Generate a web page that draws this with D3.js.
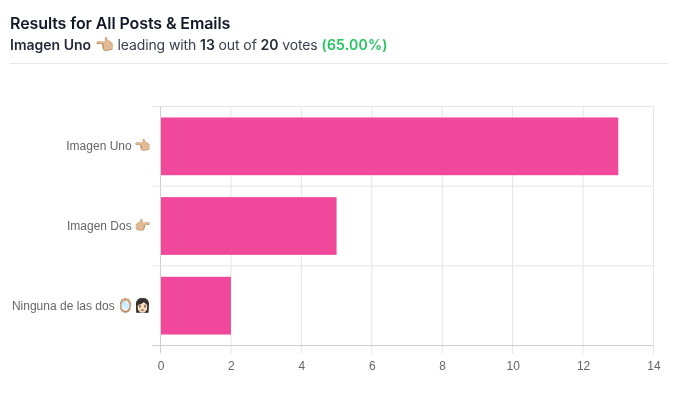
<!DOCTYPE html>
<html>
<head>
<meta charset="utf-8">
<script src="https://cdn.jsdelivr.net/npm/d3@7"></script>
<style>
  html, body { margin: 0; padding: 0; background: #fff; }
  svg { display: block; will-change: transform; }
</style>
</head>
<body>
<svg id="drawing_region"></svg>
<script>
const categories = ['Imagen Uno', 'Imagen Dos', 'Ninguna de las dos'];
const categoryEmoji = ['👈🏼', '👉🏼', '🪞👩🏻'];
const votes = [13, 5, 2];
const xTicks = [0, 2, 4, 6, 8, 10, 12, 14];

const width = 679, height = 393;
const margin = {top: 106.5, right: 25.5, bottom: 47.5, left: 160.5};
const innerWidth = width - margin.left - margin.right;
const innerHeight = height - margin.top - margin.bottom;

const svg = d3.select('#drawing_region')
    .attr('width', width)
    .attr('height', height);

// Header
const sans = 'Inter, sans-serif';
svg.append('text')
    .attr('x', 10).attr('y', 29)
    .attr('font-family', sans).attr('font-size', 16).attr('font-weight', 600)
    .attr('letter-spacing', -0.1)
    .attr('fill', '#111827')
    .text('Results for All Posts & Emails');

const sub = svg.append('text')
    .attr('x', 10).attr('y', 50)
    .attr('font-family', sans).attr('font-size', 14)
    .attr('fill', '#374151');
sub.append('tspan').attr('font-weight', 600).attr('fill', '#1f2937').text('Imagen Uno ');
sub.append('tspan').attr('font-size', 15.5).text('👈🏼');
sub.append('tspan').attr('letter-spacing', -0.1).text(' leading with ');
sub.append('tspan').attr('font-weight', 600).attr('fill', '#1f2937').attr('letter-spacing', -0.1).text('13');
sub.append('tspan').attr('letter-spacing', -0.1).text(' out of ');
sub.append('tspan').attr('font-weight', 600).attr('fill', '#1f2937').attr('letter-spacing', -0.1).text('20');
sub.append('tspan').attr('letter-spacing', -0.1).text(' votes ');
sub.append('tspan').attr('font-weight', 600).attr('fill', '#22c55e').attr('letter-spacing', 0.2).text('(65.00%)');

svg.append('line')
    .attr('x1', 10).attr('x2', 668)
    .attr('y1', 63.5).attr('y2', 63.5)
    .attr('stroke', '#e5e7eb');

const chart = svg.append('g')
    .attr('transform', `translate(${margin.left}, ${margin.top})`);

const xscale = d3.scaleLinear()
    .domain([0, 14])
    .range([0, innerWidth]);

const yscale = d3.scaleBand()
    .domain(categories)
    .range([0, innerHeight])
    .paddingInner(0.275)
    .paddingOuter(0.1375);

const bandStep = innerHeight / categories.length;

// Grid
chart.append('g').selectAll('line')
    .data(xTicks)
    .join('line')
    .attr('x1', d => xscale(d)).attr('x2', d => xscale(d))
    .attr('y1', 0).attr('y2', innerHeight + 8)
    .attr('stroke', d => d === 0 ? '#cfcfcf' : '#e5e5e5');

chart.append('g').selectAll('line')
    .data(d3.range(categories.length + 1))
    .join('line')
    .attr('x1', -8).attr('x2', innerWidth)
    .attr('y1', d => d * bandStep).attr('y2', d => d * bandStep)
    .attr('stroke', d => d === categories.length ? '#cfcfcf' : '#e5e5e5');

// Bars
chart.append('g').selectAll('rect')
    .data(votes)
    .join('rect')
    .attr('x', xscale(0) + 0.5)
    .attr('y', (d, i) => yscale(categories[i]))
    .attr('width', d => xscale(d) - 0.5)
    .attr('height', yscale.bandwidth())
    .attr('fill', '#f0499b');

// Axes
const xaxis = d3.axisBottom(xscale).tickValues(xTicks).tickSize(0).tickPadding(16);
const xaxis_group = chart.append('g')
    .attr('transform', `translate(0, ${innerHeight})`)
    .call(xaxis);
xaxis_group.select('.domain').remove();

const yaxis = d3.axisLeft(yscale).tickSize(0).tickPadding(10);
const yaxis_group = chart.append('g').call(yaxis);
yaxis_group.select('.domain').remove();

svg.selectAll('.tick text')
    .attr('font-family', '"Liberation Sans", Arial, sans-serif')
    .attr('font-size', 12)
    .attr('fill', '#666');

// Emoji sit a little larger than the label text
yaxis_group.selectAll('.tick text').each(function(d, i) {
    const label = d3.select(this).text(null);
    label.append('tspan').text(d + ' ');
    label.append('tspan').attr('font-size', 13.5).attr('dx', -1.5).text(categoryEmoji[i]);
});
</script>
</body>
</html>
